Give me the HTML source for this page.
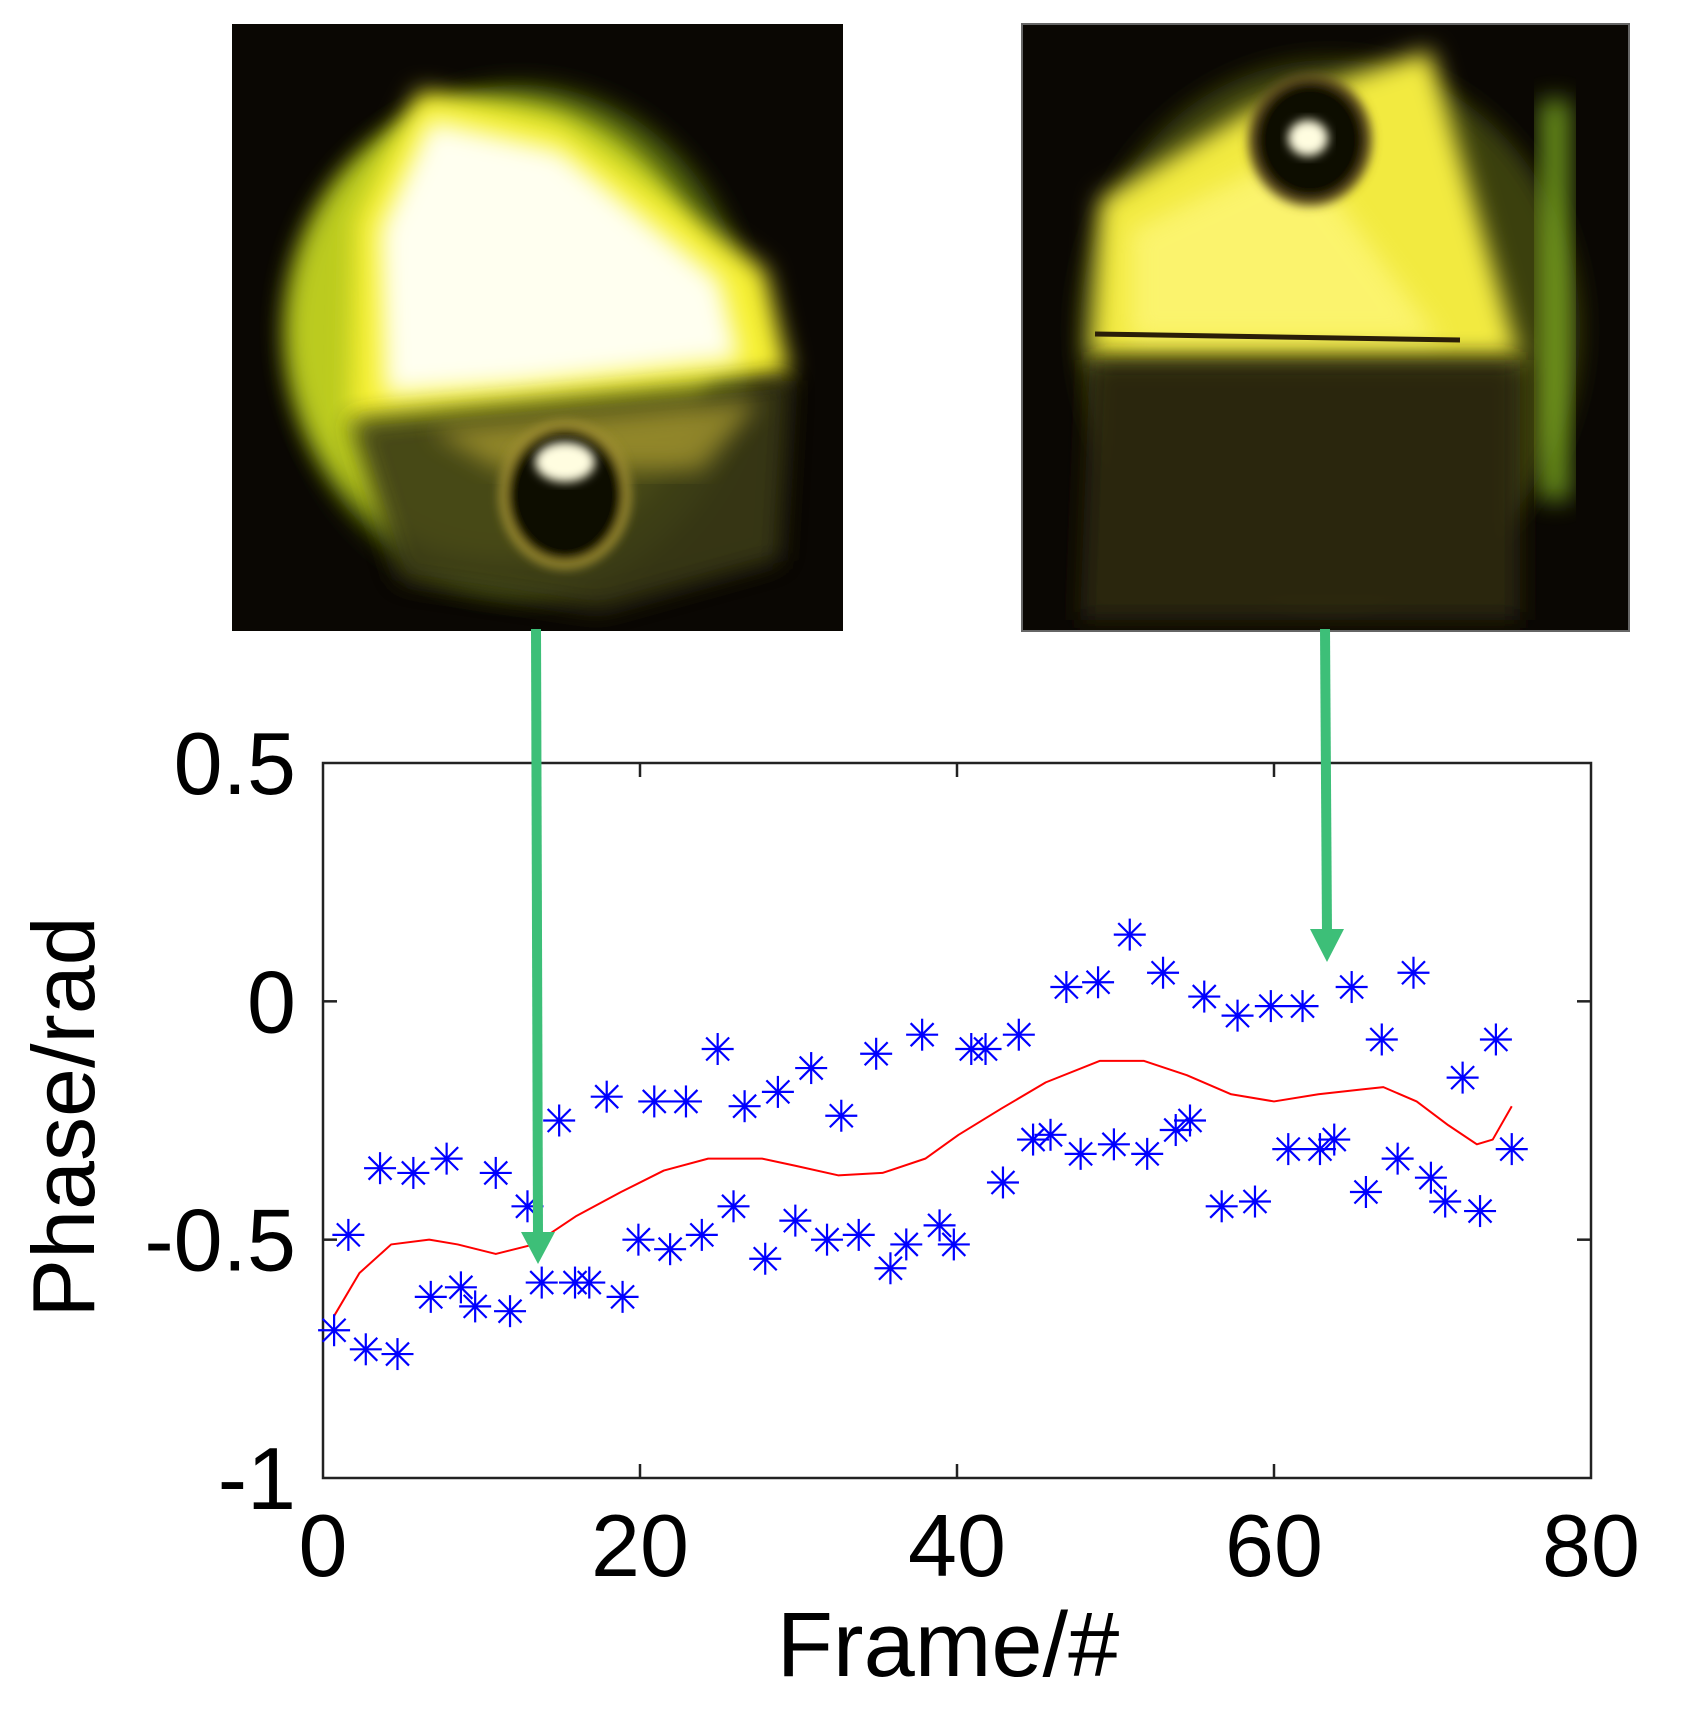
<!DOCTYPE html>
<html><head><meta charset="utf-8"><style>
html,body{margin:0;padding:0;background:#fff;}
svg{display:block;font-family:"Liberation Sans",Arial,sans-serif;}
</style></head><body>
<svg id="fig" width="1686" height="1711" viewBox="0 0 1686 1711">
<defs>
<filter id="blur" x="-20%" y="-20%" width="140%" height="140%"><feGaussianBlur stdDeviation="12"/></filter>
<filter id="blurS" x="-20%" y="-20%" width="140%" height="140%"><feGaussianBlur stdDeviation="5"/></filter>
<clipPath id="clipL"><rect x="232" y="24" width="611" height="607"/></clipPath>
<clipPath id="clipR"><rect x="1022" y="24" width="607" height="607"/></clipPath>
</defs>

<g clip-path="url(#clipL)">
<rect x="232" y="24" width="611" height="607" fill="#0a0703"/>
<ellipse cx="520" cy="340" rx="230" ry="255" fill="#4a5a10" filter="url(#blur)"/>
<ellipse cx="500" cy="330" rx="215" ry="230" fill="#c8d820" filter="url(#blur)" opacity="0.9"/>
<path d="M420 90 L560 125 L765 270 L790 375 L520 405 L350 420 L355 220 Z" fill="#f6f030" filter="url(#blur)"/>
<path d="M430 120 L560 150 L720 280 L740 360 L520 385 L385 395 L380 230 Z" fill="#fffff0" filter="url(#blur)"/>
<path d="M350 420 L790 380 L780 560 L600 610 L400 580 Z" fill="#3a3a12" filter="url(#blur)" opacity="0.9"/>
<path d="M430 430 L760 400 L700 470 L500 470 Z" fill="#b0a030" filter="url(#blur)" opacity="0.7"/>
<ellipse cx="565" cy="495" rx="62" ry="70" fill="#100c04" stroke="#a09030" stroke-width="8" filter="url(#blurS)"/>
<ellipse cx="565" cy="462" rx="30" ry="20" fill="#fffde0" filter="url(#blurS)"/>
</g>

<g clip-path="url(#clipR)">
<rect x="1022" y="24" width="607" height="607" fill="#0a0703"/>
<ellipse cx="1330" cy="330" rx="250" ry="270" fill="#3a4010" filter="url(#blur)"/>
<path d="M1100 200 L1250 110 L1430 50 L1520 360 L1090 360 Z" fill="#f2ea40" filter="url(#blur)"/>
<path d="M1130 230 L1300 150 L1440 340 L1130 340 Z" fill="#fff880" filter="url(#blur)" opacity="0.7"/>
<rect x="1540" y="100" width="30" height="400" fill="#80b020" filter="url(#blur)" opacity="0.8"/>
<path d="M1090 360 L1520 360 L1520 620 L1080 620 Z" fill="#2a2610" filter="url(#blur)"/>
<line x1="1095" y1="334" x2="1460" y2="340" stroke="#2a1e08" stroke-width="5"/>
<ellipse cx="1310" cy="140" rx="58" ry="62" fill="#100c04" stroke="#605020" stroke-width="8" filter="url(#blurS)"/>
<ellipse cx="1308" cy="138" rx="20" ry="18" fill="#fffde0" filter="url(#blurS)"/>
</g>
<rect x="1022" y="24" width="607" height="607" fill="none" stroke="#666" stroke-width="2"/>

<g id="plot">
<rect x="323" y="763" width="1268" height="715" fill="none" stroke="#222" stroke-width="2.5"/>
<g id="ticks"></g>
<g id="curve"></g>
<g id="markers"></g>
</g>

<g>
<line x1="536" y1="629" x2="538" y2="1238" stroke="#3dbf78" stroke-width="10"/>
<polygon points="521,1232 555,1232 538,1264" fill="#3dbf78"/>
</g>
<g>
<line x1="1325" y1="629" x2="1327" y2="935" stroke="#3dbf78" stroke-width="10"/>
<polygon points="1310,929 1344,929 1327,962" fill="#3dbf78"/>
</g>

<text x="948" y="1676" font-size="92" text-anchor="middle" fill="#000">Frame/#</text>
<text x="0" y="0" font-size="88" text-anchor="middle" fill="#000" transform="translate(94,1117) rotate(-90)">Phase/rad</text>
</svg>
<script>
const xTicks=[0,20,40,60,80];
const yTicks=[0.5,0,-0.5,-1];
const yTickLabels=["0.5","0","-0.5","-1"];
const frames=[0.7,1.6,2.7,3.6,4.7,5.7,6.8,7.8,8.7,9.6,10.9,11.8,12.9,13.8,14.9,15.9,16.8,17.9,18.9,19.9,20.9,21.9,22.9,23.9,24.9,25.9,26.6,27.9,28.7,29.8,30.8,31.8,32.7,33.8,34.9,35.8,36.8,37.8,38.9,39.8,40.9,41.8,42.9,43.9,44.8,45.9,46.9,47.8,48.9,49.9,50.9,52.0,53.0,53.8,54.7,55.6,56.7,57.7,58.8,59.8,60.9,61.8,62.9,63.8,64.9,65.8,66.8,67.8,68.8,69.9,70.8,71.9,73.0,74.0,75.0];
const phase=[-0.69,-0.49,-0.73,-0.35,-0.74,-0.36,-0.62,-0.33,-0.60,-0.64,-0.36,-0.65,-0.43,-0.59,-0.25,-0.59,-0.59,-0.20,-0.62,-0.50,-0.21,-0.52,-0.21,-0.49,-0.10,-0.43,-0.22,-0.54,-0.19,-0.46,-0.14,-0.50,-0.24,-0.49,-0.11,-0.56,-0.51,-0.07,-0.47,-0.51,-0.10,-0.10,-0.38,-0.07,-0.29,-0.28,0.03,-0.32,0.04,-0.30,0.14,-0.32,0.06,-0.27,-0.25,0.01,-0.43,-0.03,-0.42,-0.01,-0.31,-0.01,-0.31,-0.29,0.03,-0.40,-0.08,-0.33,0.06,-0.37,-0.42,-0.16,-0.44,-0.08,-0.31];
const fitFrames=[0.7,2.3,4.3,6.7,8.5,10.9,13.3,16,18.8,21.5,24.3,27.7,29.8,32.5,35.3,38,40.1,42.8,45.6,49,51.8,54.5,57.3,60,62.8,65.5,66.9,69,71,72.8,73.8,75];
const fitPhase=[-0.66,-0.57,-0.51,-0.50,-0.51,-0.53,-0.51,-0.45,-0.40,-0.355,-0.33,-0.33,-0.345,-0.365,-0.36,-0.33,-0.28,-0.225,-0.17,-0.125,-0.125,-0.155,-0.195,-0.21,-0.195,-0.185,-0.18,-0.21,-0.26,-0.30,-0.29,-0.22];

const L=323,R=1591,T=763,B=1478;
const xs=v=>L+(v-0)/(80-0)*(R-L);
const ys=v=>B-(v-(-1))/(0.5-(-1))*(B-T);
const NS="http://www.w3.org/2000/svg";
function mk(tag,attrs,parent){const e=document.createElementNS(NS,tag);for(const k in attrs)e.setAttribute(k,attrs[k]);parent.appendChild(e);return e;}
const tk=document.getElementById('ticks');
xTicks.forEach(t=>{
  const x=xs(t);
  if(t>0&&t<80){
    mk('line',{x1:x,y1:B,x2:x,y2:B-14,stroke:'#222','stroke-width':2.5},tk);
    mk('line',{x1:x,y1:T,x2:x,y2:T+14,stroke:'#222','stroke-width':2.5},tk);
  }
  const lb=mk('text',{x:x,y:1576,'font-size':88,'text-anchor':'middle',fill:'#000'},tk);
  lb.textContent=String(t);
  
  
});
yTicks.forEach((t,i)=>{
  const y=ys(t);
  if(t<0.5&&t>-1){
    mk('line',{x1:L,y1:y,x2:L+14,y2:y,stroke:'#222','stroke-width':2.5},tk);
    mk('line',{x1:R,y1:y,x2:R-14,y2:y,stroke:'#222','stroke-width':2.5},tk);
  }
  const lb=mk('text',{x:296,y:y+31,'font-size':88,'text-anchor':'end',fill:'#000'},tk);
  lb.textContent=yTickLabels[i];
  
  
});
const cv=document.getElementById('curve');
const pl=mk('polyline',{points:fitFrames.map((f,i)=>xs(f)+','+ys(fitPhase[i])).join(' '),fill:'none',stroke:'#ff0000','stroke-width':2,'stroke-linejoin':'round'},cv);


const mg=document.getElementById('markers');
const s=16,d=11.5;
frames.forEach((f,i)=>{
  const cx=xs(f),cy=ys(phase[i]);
  const g=mk('g',{stroke:'#0000ff','stroke-width':2.2},mg);
  
  
  mk('line',{x1:cx-s,y1:cy,x2:cx+s,y2:cy},g);
  mk('line',{x1:cx,y1:cy-s,x2:cx,y2:cy+s},g);
  mk('line',{x1:cx-d,y1:cy-d,x2:cx+d,y2:cy+d},g);
  mk('line',{x1:cx-d,y1:cy+d,x2:cx+d,y2:cy-d},g);
});
</script>
</body></html>
